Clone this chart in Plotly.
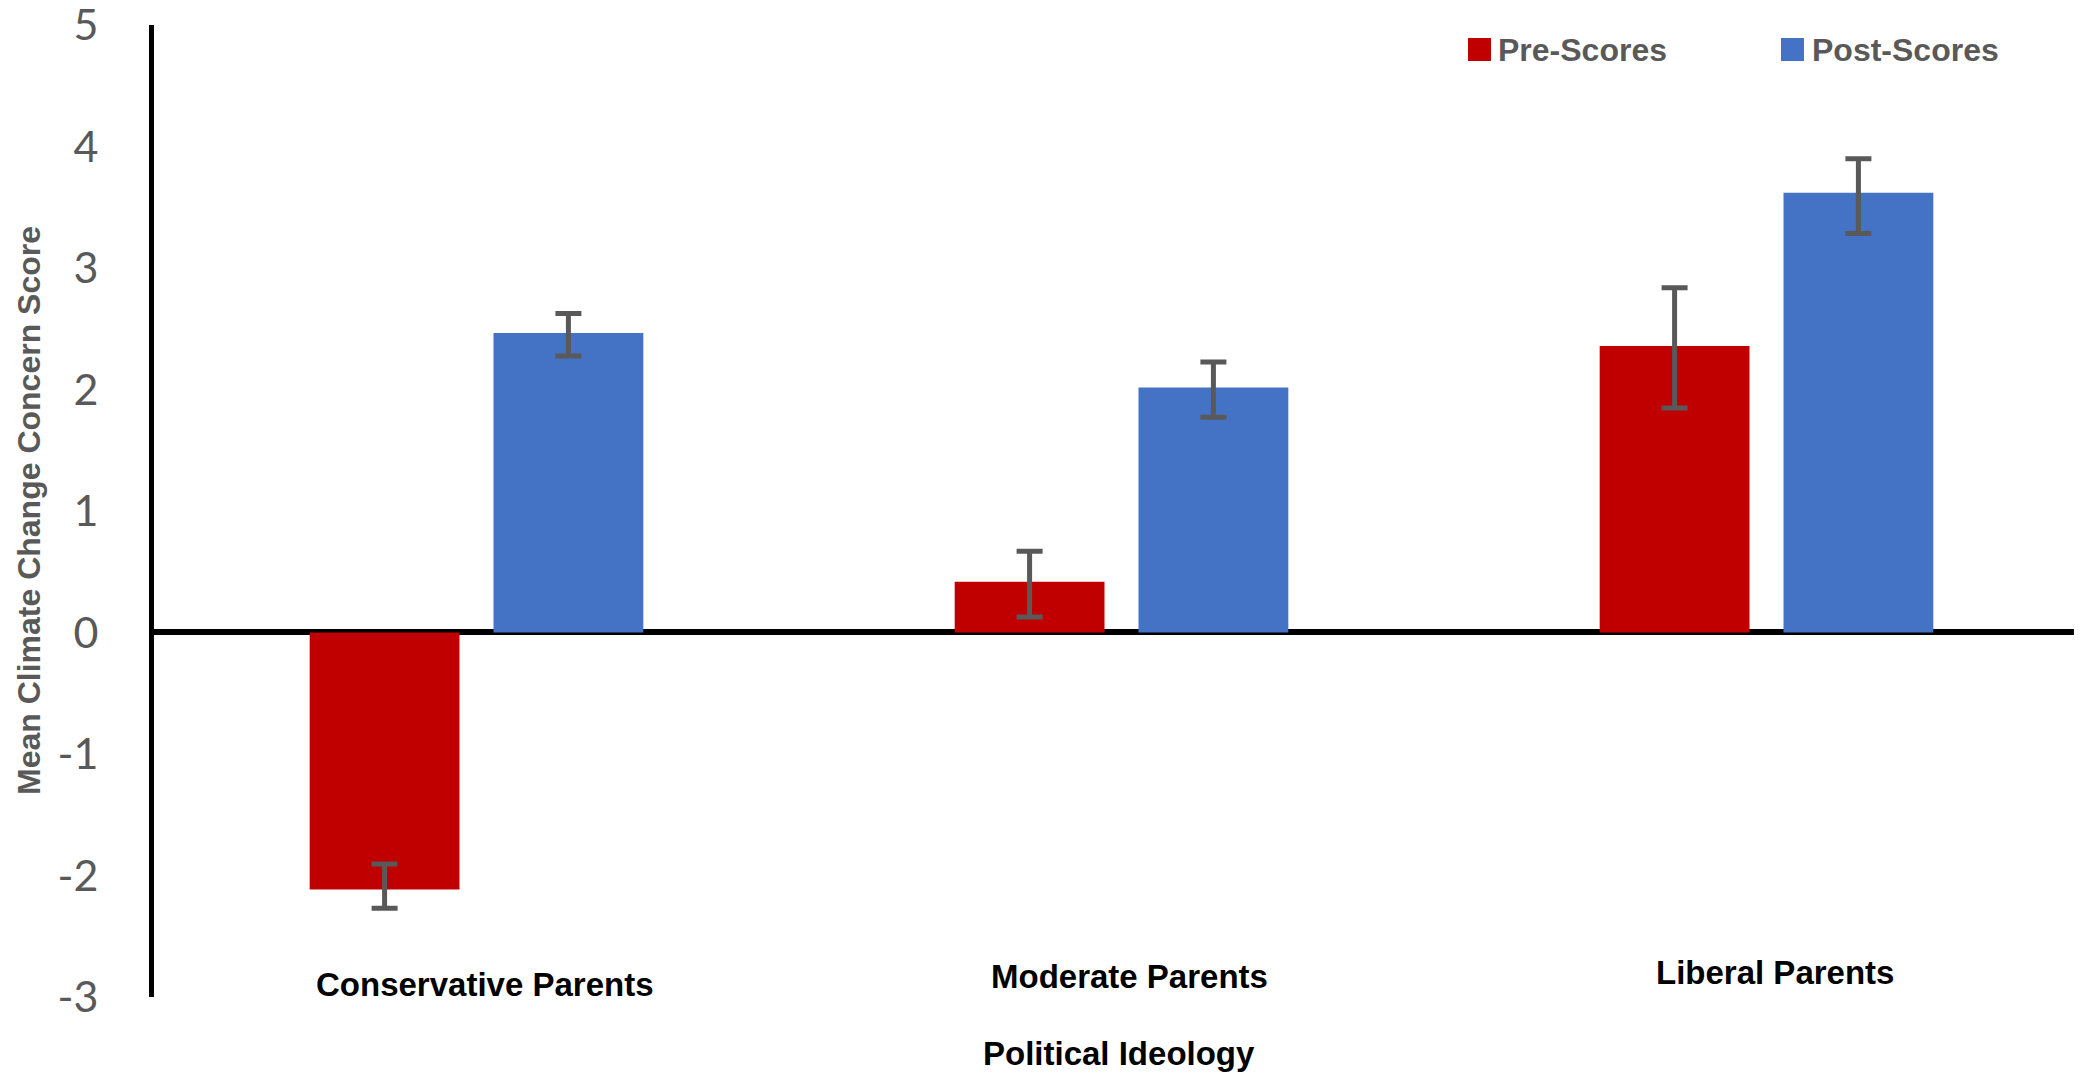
import plotly.graph_objects as go

# ---- data ----
categories = ["Conservative Parents", "Moderate Parents", "Liberal Parents"]
series_names = ["Pre-Scores", "Post-Scores"]
pre_scores = [-2.115, 0.418, 2.358]
pre_err_plus = [0.21, 0.25, 0.48]
pre_err_minus = [0.155, 0.29, 0.51]
post_scores = [2.465, 2.017, 3.619]
post_err_plus = [0.16, 0.21, 0.28]
post_err_minus = [0.19, 0.245, 0.335]
y_ticks = [5, 4, 3, 2, 1, 0, -1, -2, -3]
x_title = "Political Ideology"
y_title = "Mean Climate Change Concern Score"

# ---- layout geometry (page has an 8px body margin) ----
OFF = 8
W_FIG, H_FIG = 2082 - OFF, 1073 - OFF
# plot area in page pixels: left 154, right 2082, top 25, bottom 997
L = 154 - OFF
T = 25 - OFF
R = 0
B = 1073 - 997
PW = W_FIG - L - R
PH = H_FIG - T - B

def px_x(p):
    return (p - OFF - L) / PW

def px_y(p):
    return (H_FIG - B - (p - OFF)) / PH

RED = "#C00000"
BLUE = "#4472C4"
GREY = "#595959"
ERR = "#595959"

fig = go.Figure()
fig.add_trace(go.Bar(
    name=series_names[0], x=categories, y=pre_scores, marker_color=RED,
    marker_line_width=0,
    error_y=dict(type="data", symmetric=False, array=pre_err_plus,
                 arrayminus=pre_err_minus, color=ERR, thickness=5, width=13),
    showlegend=False,
))
fig.add_trace(go.Bar(
    name=series_names[1], x=categories, y=post_scores, marker_color=BLUE,
    marker_line_width=0,
    error_y=dict(type="data", symmetric=False, array=post_err_plus,
                 arrayminus=post_err_minus, color=ERR, thickness=5, width=13),
    showlegend=False,
))

fig.update_layout(
    width=W_FIG, height=H_FIG,
    margin=dict(l=L, r=R, t=T, b=B, pad=0, autoexpand=False),
    paper_bgcolor="white", plot_bgcolor="white",
    barmode="group", bargap=0.43, bargroupgap=0.185,
    showlegend=False,
    font=dict(family="Liberation Sans, Arial, sans-serif", color=GREY),
)
fig.update_xaxes(
    type="category", range=[-0.5, -0.5 + PW / 645.0],
    showgrid=False, showline=False, zeroline=False, ticks="",
    showticklabels=False, automargin=False,
)
fig.update_yaxes(
    range=[-3.0005, 5.0005], tickmode="array", tickvals=y_ticks,
    ticktext=[str(v) for v in y_ticks],
    showgrid=False, showline=True, linecolor="black", linewidth=5,
    zeroline=True, zerolinecolor="black", zerolinewidth=6,
    ticks="", ticklabelstandoff=42, automargin=False,
    ticklabeloverflow="allow",
    tickfont=dict(family="Lato, Carlito, sans-serif", size=43, color=GREY),
)

# category labels (inside plot, near bottom, as in the reference)
label_y = [984, 976, 972]
for cat, py in zip(categories, label_y):
    fig.add_annotation(
        x=cat, xref="x", y=px_y(py), yref="paper", text=f"<b>{cat}</b>",
        showarrow=False, xanchor="center", yanchor="middle", xshift=8,
        font=dict(family="Liberation Sans, Arial, sans-serif", size=33, color="black"),
    )

# x title
fig.add_annotation(
    x=px_x(1119), xref="paper", y=px_y(1053), yref="paper",
    text=f"<b>{x_title}</b>", showarrow=False, xanchor="center", yanchor="middle",
    font=dict(family="Liberation Sans, Arial, sans-serif", size=33, color="black"),
)
# y title
fig.add_annotation(
    x=px_x(29), xref="paper", y=0.5, yref="paper", textangle=-90,
    text=f"<b>{y_title}</b>", showarrow=False, xanchor="center", yanchor="middle",
    font=dict(family="Liberation Sans, Arial, sans-serif", size=32, color=GREY),
)

# manual legend
legend_items = [(series_names[0], RED, 1468, 1496), (series_names[1], BLUE, 1781, 1810)]
for name, col, sx, tx in legend_items:
    fig.add_shape(
        type="rect", xref="paper", yref="paper",
        x0=px_x(sx), x1=px_x(sx + 23), y0=px_y(38), y1=px_y(61),
        fillcolor=col, line=dict(width=0), layer="above",
    )
    fig.add_annotation(
        x=px_x(tx), xref="paper", y=px_y(49.5), yref="paper",
        text=f"<b>{name}</b>", showarrow=False, xanchor="left", yanchor="middle",
        font=dict(family="Liberation Sans, Arial, sans-serif", size=32, color=GREY),
    )

fig.write_html("out.html")
